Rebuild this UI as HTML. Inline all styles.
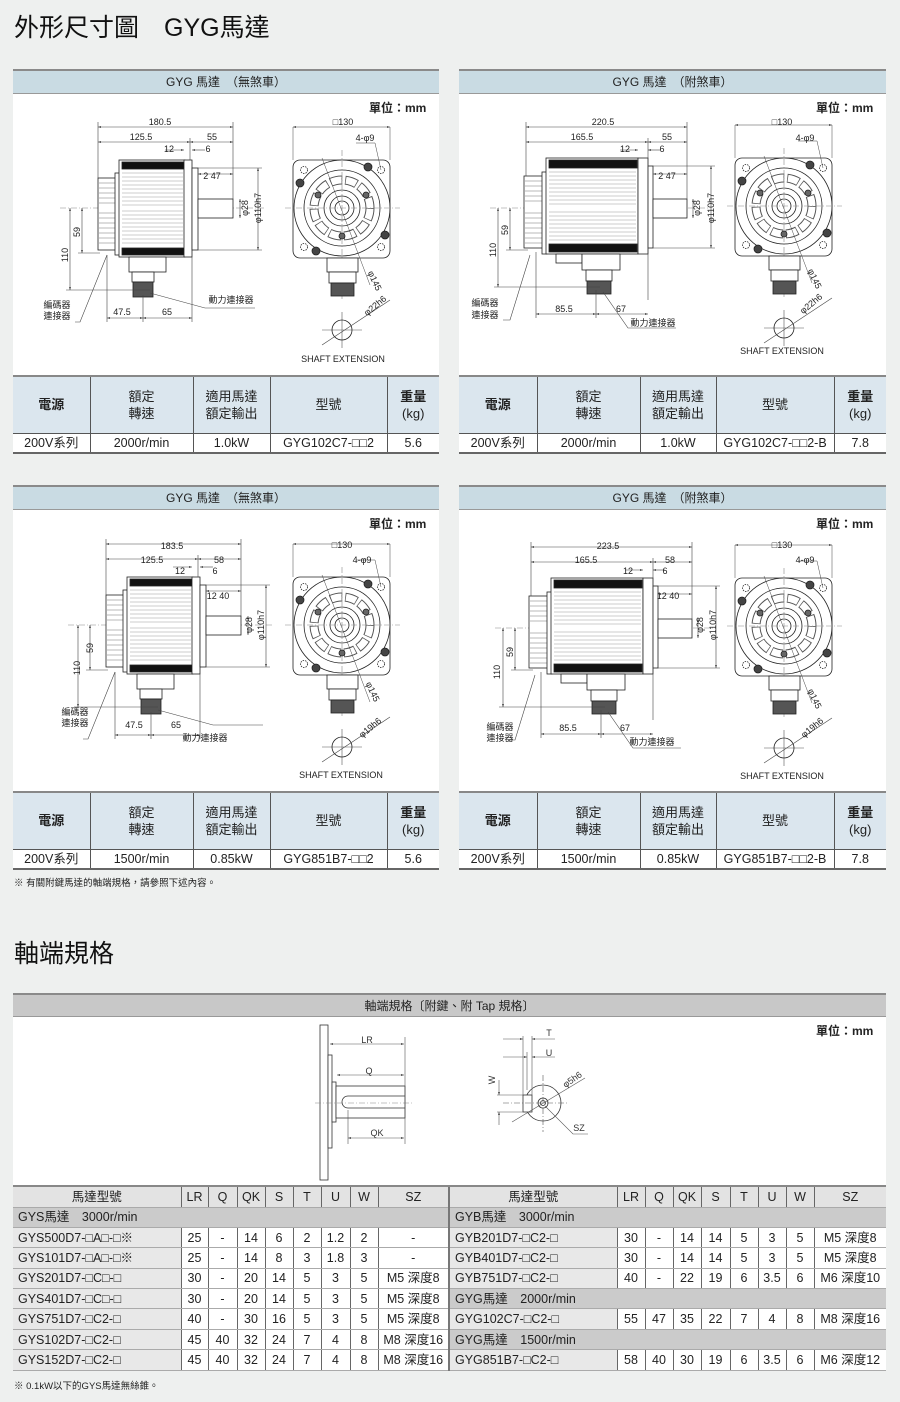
<!DOCTYPE html>
<html><head><meta charset="utf-8">
<style>
*{margin:0;padding:0;box-sizing:border-box}
body{width:900px;height:1402px;background:#eef0ef;position:relative;overflow:hidden;font-family:"Liberation Sans","Noto Sans CJK TC",sans-serif;color:#222}
.abs{position:absolute}
.h1{font-size:25px;left:14px;color:#111}
.panel{position:absolute;background:#fff}
.ph{position:absolute;left:0;right:0;top:0;height:25px;background:#c9dbe3;border-top:2px solid #8a8a8a;border-bottom:1px solid #999;font-size:12px;text-align:center;line-height:22px}
table{border-collapse:collapse;position:absolute;table-layout:fixed}
.spec td{border-left:1px solid #555;text-align:center;font-size:12.5px;padding:0}
.spec td:first-child{border-left:none}
.spec tr.hd td{background:#dbe6ee;height:57px;line-height:17px;font-size:13px;border-top:2px solid #888}
.spec tr.dt td{background:#fff;height:20px;line-height:16px;border-top:1px solid #555;border-bottom:2px solid #666}
.unit{font-size:12px;font-weight:bold;position:absolute}
.shaft td{font-size:12.5px;text-align:center;height:20.4px;line-height:16px;border-left:1px solid #666;border-bottom:1px solid #aaa;background:#fff;padding:0}
.shaft td.m{text-align:left;padding-left:5px;background:#e8e8e8}
.shaft tr.sec td{background:#cbcbcb;text-align:left;padding-left:5px}
.shaft tr.hd td{background:#e3e3e3;height:21px;border-top:2px solid #888}
.shaft td.s2{border-left:2px solid #777}
</style></head><body>

<div class="abs h1" style="top:8px">外形尺寸圖　GYG馬達</div>

<div class="panel" style="left:13px;top:69px;width:426px;height:383px"><div class="ph">GYG 馬達　（無煞車）</div></div>
<div class="panel" style="left:459px;top:69px;width:427px;height:383px"><div class="ph">GYG 馬達　（附煞車）</div></div>
<div class="panel" style="left:13px;top:485px;width:426px;height:383px"><div class="ph">GYG 馬達　（無煞車）</div></div>
<div class="panel" style="left:459px;top:485px;width:427px;height:383px"><div class="ph">GYG 馬達　（附煞車）</div></div>

<div class="unit" style="left:369px;top:99px">單位：mm</div>
<div class="unit" style="left:816px;top:99px">單位：mm</div>
<div class="unit" style="left:369px;top:515px">單位：mm</div>
<div class="unit" style="left:816px;top:515px">單位：mm</div>

<table class="spec" style="left:13px;top:375px;width:426px">
<colgroup><col style="width:77px"><col style="width:103px"><col style="width:77px"><col style="width:117px"><col style="width:52px"></colgroup>
<tr class="hd"><td><b>電源</b></td><td>額定<br>轉速</td><td>適用馬達<br>額定輸出</td><td>型號</td><td><b>重量</b><br>(kg)</td></tr>
<tr class="dt"><td>200V系列</td><td>2000r/min</td><td>1.0kW</td><td>GYG102C7-□□2</td><td>5.6</td></tr></table>
<table class="spec" style="left:459px;top:375px;width:427px">
<colgroup><col style="width:78px"><col style="width:103px"><col style="width:76px"><col style="width:118px"><col style="width:52px"></colgroup>
<tr class="hd"><td><b>電源</b></td><td>額定<br>轉速</td><td>適用馬達<br>額定輸出</td><td>型號</td><td><b>重量</b><br>(kg)</td></tr>
<tr class="dt"><td>200V系列</td><td>2000r/min</td><td>1.0kW</td><td>GYG102C7-□□2-B</td><td>7.8</td></tr></table>
<table class="spec" style="left:13px;top:791px;width:426px">
<colgroup><col style="width:77px"><col style="width:103px"><col style="width:77px"><col style="width:117px"><col style="width:52px"></colgroup>
<tr class="hd"><td><b>電源</b></td><td>額定<br>轉速</td><td>適用馬達<br>額定輸出</td><td>型號</td><td><b>重量</b><br>(kg)</td></tr>
<tr class="dt"><td>200V系列</td><td>1500r/min</td><td>0.85kW</td><td>GYG851B7-□□2</td><td>5.6</td></tr></table>
<table class="spec" style="left:459px;top:791px;width:427px">
<colgroup><col style="width:78px"><col style="width:103px"><col style="width:76px"><col style="width:118px"><col style="width:52px"></colgroup>
<tr class="hd"><td><b>電源</b></td><td>額定<br>轉速</td><td>適用馬達<br>額定輸出</td><td>型號</td><td><b>重量</b><br>(kg)</td></tr>
<tr class="dt"><td>200V系列</td><td>1500r/min</td><td>0.85kW</td><td>GYG851B7-□□2-B</td><td>7.8</td></tr></table>

<div class="abs" style="left:14px;top:875px;font-size:9.5px">※ 有關附鍵馬達的軸端規格，請參照下述內容。</div>

<div class="abs h1" style="top:934px">軸端規格</div>

<div class="panel" style="left:13px;top:993px;width:873px;height:192px"><div class="ph" style="background:#c8c8c8;height:24px;font-size:12px">軸端規格〔附鍵、附 Tap 規格〕</div></div>
<div class="unit" style="left:816px;top:1022px">單位：mm</div>

<table class="shaft" style="left:13px;top:1185px;width:873px">
<colgroup><col style="width:168px"><col style="width:27px"><col style="width:29px"><col style="width:28px"><col style="width:28px"><col style="width:28px"><col style="width:29px"><col style="width:28px"><col style="width:71px"><col style="width:168px"><col style="width:28px"><col style="width:28px"><col style="width:28px"><col style="width:29px"><col style="width:28px"><col style="width:28px"><col style="width:28px"><col style="width:72px"></colgroup>
<tr class="hd"><td style="border-left:none">馬達型號</td><td>LR</td><td>Q</td><td>QK</td><td>S</td><td>T</td><td>U</td><td>W</td><td>SZ</td><td class="s2">馬達型號</td><td>LR</td><td>Q</td><td>QK</td><td>S</td><td>T</td><td>U</td><td>W</td><td>SZ</td></tr>
<tr class="sec"><td colspan="9" style="border-left:none">GYS馬達　3000r/min</td><td colspan="9" class="s2">GYB馬達　3000r/min</td></tr>
<tr><td class="m" style="border-left:none">GYS500D7-□A□-□※</td><td>25</td><td>-</td><td>14</td><td>6</td><td>2</td><td>1.2</td><td>2</td><td>-</td><td class="m s2">GYB201D7-□C2-□</td><td>30</td><td>-</td><td>14</td><td>14</td><td>5</td><td>3</td><td>5</td><td>M5 深度8</td></tr>
<tr><td class="m" style="border-left:none">GYS101D7-□A□-□※</td><td>25</td><td>-</td><td>14</td><td>8</td><td>3</td><td>1.8</td><td>3</td><td>-</td><td class="m s2">GYB401D7-□C2-□</td><td>30</td><td>-</td><td>14</td><td>14</td><td>5</td><td>3</td><td>5</td><td>M5 深度8</td></tr>
<tr><td class="m" style="border-left:none">GYS201D7-□C□-□</td><td>30</td><td>-</td><td>20</td><td>14</td><td>5</td><td>3</td><td>5</td><td>M5 深度8</td><td class="m s2">GYB751D7-□C2-□</td><td>40</td><td>-</td><td>22</td><td>19</td><td>6</td><td>3.5</td><td>6</td><td>M6 深度10</td></tr>
<tr><td class="m" style="border-left:none">GYS401D7-□C□-□</td><td>30</td><td>-</td><td>20</td><td>14</td><td>5</td><td>3</td><td>5</td><td>M5 深度8</td><td colspan="9" class="s2" style="background:#cbcbcb;text-align:left;padding-left:5px">GYG馬達　2000r/min</td></tr>
<tr><td class="m" style="border-left:none">GYS751D7-□C2-□</td><td>40</td><td>-</td><td>30</td><td>16</td><td>5</td><td>3</td><td>5</td><td>M5 深度8</td><td class="m s2">GYG102C7-□C2-□</td><td>55</td><td>47</td><td>35</td><td>22</td><td>7</td><td>4</td><td>8</td><td>M8 深度16</td></tr>
<tr><td class="m" style="border-left:none">GYS102D7-□C2-□</td><td>45</td><td>40</td><td>32</td><td>24</td><td>7</td><td>4</td><td>8</td><td>M8 深度16</td><td colspan="9" class="s2" style="background:#cbcbcb;text-align:left;padding-left:5px">GYG馬達　1500r/min</td></tr>
<tr><td class="m" style="border-left:none">GYS152D7-□C2-□</td><td>45</td><td>40</td><td>32</td><td>24</td><td>7</td><td>4</td><td>8</td><td>M8 深度16</td><td class="m s2">GYG851B7-□C2-□</td><td>58</td><td>40</td><td>30</td><td>19</td><td>6</td><td>3.5</td><td>6</td><td>M6 深度12</td></tr>
</table>
<div class="abs" style="left:14px;top:1378px;font-size:9.5px">※ 0.1kW以下的GYS馬達無絲錐。</div>

<svg class="abs" style="left:0;top:0" width="900" height="1402" viewBox="0 0 900 1402" font-family="Liberation Sans, Noto Sans CJK TC, sans-serif" font-size="9" fill="#222">
<defs>
<marker id="ar" viewBox="0 0 6 6" refX="6" refY="3" markerWidth="5" markerHeight="5" orient="auto-start-reverse"><path d="M0,1 L6,3 L0,5z" fill="#444"/></marker>
<g id="sideA" stroke="#222" stroke-width="0.8" fill="#fff">
 <line x1="60" y1="208" x2="265" y2="208" stroke="#888" stroke-dasharray="6,2,1,2" stroke-width="0.6"/>
 <rect x="98" y="178" width="21" height="72"/>
 <path d="M99 183H118M99 188H118M99 193H118M99 198H118M99 203H118M99 213H118M99 218H118M99 223H118M99 228H118M99 233H118M99 238H118M99 243H118" stroke="#777" stroke-width="0.6"/>
 <rect x="115" y="173" width="5" height="82"/>
 <rect x="119" y="160" width="66" height="97"/>
 <path d="M122 173H183M122 177H183M122 181H183M122 185H183M122 189H183M122 193H183M122 197H183M122 201H183M122 205H183M122 211H183M122 215H183M122 219H183M122 223H183M122 227H183M122 231H183M122 235H183M122 239H183M122 243H183" stroke="#999" stroke-width="0.6"/>
 <rect x="122" y="162" width="62" height="7" fill="#111"/>
 <rect x="122" y="248" width="62" height="7" fill="#111"/>
 <rect x="184" y="160" width="8" height="97"/>
 <rect x="192" y="168" width="6" height="82"/>
 <rect x="198" y="199" width="35" height="19"/>
 <rect x="129" y="257" width="37" height="15"/>
 <rect x="132" y="272" width="22" height="10"/>
 <rect x="133" y="282" width="20" height="15" fill="#555"/>
</g>
<g id="sideB" stroke="#222" stroke-width="0.8" fill="#fff">
 <line x1="490" y1="208" x2="710" y2="208" stroke="#888" stroke-dasharray="6,2,1,2" stroke-width="0.6"/>
 <rect x="524" y="176" width="22" height="72"/>
 <path d="M525 181H545M525 186H545M525 191H545M525 196H545M525 201H545M525 213H545M525 218H545M525 223H545M525 228H545M525 233H545M525 238H545M525 243H545" stroke="#777" stroke-width="0.6"/>
 <rect x="542" y="172" width="5" height="82"/>
 <rect x="546" y="158" width="92" height="96"/>
 <path d="M549 172H636M549 176H636M549 180H636M549 184H636M549 188H636M549 192H636M549 196H636M549 200H636M549 204H636M549 212H636M549 216H636M549 220H636M549 224H636M549 228H636M549 232H636M549 236H636M549 240H636" stroke="#999" stroke-width="0.6"/>
 <rect x="549" y="160" width="88" height="8" fill="#111"/>
 <rect x="549" y="244" width="88" height="8" fill="#111"/>
 <rect x="638" y="158" width="10" height="96"/>
 <rect x="648" y="166" width="5" height="82"/>
 <rect x="653" y="199" width="34" height="19"/>
 <rect x="556" y="254" width="26" height="9"/>
 <rect x="582" y="254" width="38" height="16"/>
 <rect x="586" y="270" width="26" height="11"/>
 <rect x="587" y="281" width="24" height="13" fill="#555"/>
</g>
<g id="front" stroke="#222" stroke-width="0.8" fill="#fff">
 <rect x="293" y="160" width="97" height="98" rx="7"/>
 <circle cx="342" cy="208" r="48"/>
 <circle cx="342" cy="208" r="38"/>
 <circle cx="342" cy="208" r="28" fill="none" stroke="#555" stroke-width="9" stroke-dasharray="12,3"/>
 <circle cx="342" cy="208" r="28" fill="none" stroke="#fff" stroke-width="7" stroke-dasharray="10.5,4.5" stroke-dashoffset="-0.75"/>
 <circle cx="342" cy="208" r="18"/>
 <circle cx="342" cy="208" r="12"/>
 <circle cx="342" cy="208" r="7"/>
 <line x1="285" y1="208" x2="400" y2="208" stroke="#888" stroke-dasharray="6,2,1,2" stroke-width="0.6"/>
 <line x1="342" y1="150" x2="342" y2="300" stroke="#888" stroke-dasharray="6,2,1,2" stroke-width="0.6"/>
 <circle cx="300" cy="183" r="4" fill="#444"/><circle cx="368" cy="167" r="4" fill="#444"/>
 <circle cx="385" cy="235" r="4" fill="#444"/><circle cx="316" cy="251" r="4" fill="#444"/>
 <circle cx="318" cy="195" r="3" fill="#666"/><circle cx="366" cy="195" r="3" fill="#666"/><circle cx="342" cy="236" r="3" fill="#666"/>
 <circle cx="304" cy="170" r="3.5" stroke-dasharray="1.5,1"/><circle cx="381" cy="170" r="3.5" stroke-dasharray="1.5,1"/>
 <circle cx="304" cy="247" r="3.5" stroke-dasharray="1.5,1"/><circle cx="381" cy="247" r="3.5" stroke-dasharray="1.5,1"/>
 <rect x="327" y="258" width="31" height="14"/>
 <rect x="329" y="272" width="27" height="11"/>
 <rect x="331" y="283" width="23" height="13" fill="#555"/>
 <line x1="322" y1="330" x2="362" y2="330" stroke="#555" stroke-width="0.6"/>
 <line x1="342" y1="312" x2="342" y2="348" stroke="#555" stroke-width="0.6"/>
 <circle cx="342" cy="330" r="10" fill="none"/>
 <line x1="322" y1="345" x2="390" y2="300" stroke="#444" stroke-width="0.6"/>
 <line x1="293" y1="127" x2="390" y2="127" stroke="#444" stroke-width="0.6" marker-start="url(#ar)" marker-end="url(#ar)"/>
 <line x1="293" y1="127" x2="293" y2="160" stroke="#444" stroke-width="0.5"/>
 <line x1="390" y1="127" x2="390" y2="160" stroke="#444" stroke-width="0.5"/>
 <polyline points="356,143 375,143 381,170" fill="none" stroke="#444" stroke-width="0.5"/>
 <line x1="322" y1="158" x2="370" y2="285" stroke="#444" stroke-width="0.5"/>
</g>
<g id="dimA" stroke="#444" stroke-width="0.6" fill="none">
 <line x1="98" y1="127" x2="233" y2="127" marker-start="url(#ar)" marker-end="url(#ar)"/>
 <line x1="98" y1="142" x2="190" y2="142" marker-start="url(#ar)" marker-end="url(#ar)"/>
 <line x1="190" y1="142" x2="233" y2="142" marker-start="url(#ar)" marker-end="url(#ar)"/>
 <line x1="98" y1="122" x2="98" y2="178"/><line x1="233" y1="122" x2="233" y2="199"/><line x1="190" y1="138" x2="190" y2="160"/>
 <line x1="165" y1="150" x2="184" y2="150" marker-end="url(#ar)"/><line x1="192" y1="150" x2="205" y2="150" marker-start="url(#ar)"/>
 <line x1="198" y1="174" x2="233" y2="174" marker-start="url(#ar)" marker-end="url(#ar)"/>
 <line x1="240" y1="199" x2="240" y2="218" marker-start="url(#ar)" marker-end="url(#ar)"/>
 <line x1="258" y1="168" x2="258" y2="250" marker-start="url(#ar)" marker-end="url(#ar)"/>
 <line x1="198" y1="168" x2="262" y2="168"/><line x1="198" y1="250" x2="262" y2="250"/>
 <line x1="70" y1="208" x2="70" y2="290" marker-start="url(#ar)" marker-end="url(#ar)"/>
 <line x1="82" y1="208" x2="82" y2="253" marker-start="url(#ar)" marker-end="url(#ar)"/>
 <line x1="66" y1="290" x2="150" y2="290"/><line x1="78" y1="253" x2="100" y2="253"/>
 <line x1="107" y1="318" x2="143" y2="318" marker-start="url(#ar)" marker-end="url(#ar)"/>
 <line x1="143" y1="318" x2="192" y2="318" marker-start="url(#ar)" marker-end="url(#ar)"/>
 <line x1="107" y1="255" x2="107" y2="322"/><line x1="143" y1="295" x2="143" y2="322"/><line x1="192" y1="257" x2="192" y2="322"/>
 <polyline points="75,322 80,322 107,255"/>
 <polyline points="150,293 205,308 255,308"/>
</g>
<g id="dimB" stroke="#444" stroke-width="0.6" fill="none">
 <line x1="526" y1="127" x2="687" y2="127" marker-start="url(#ar)" marker-end="url(#ar)"/>
 <line x1="526" y1="142" x2="648" y2="142" marker-start="url(#ar)" marker-end="url(#ar)"/>
 <line x1="648" y1="142" x2="687" y2="142" marker-start="url(#ar)" marker-end="url(#ar)"/>
 <line x1="526" y1="122" x2="526" y2="176"/><line x1="687" y1="122" x2="687" y2="199"/><line x1="648" y1="138" x2="648" y2="300"/>
 <line x1="620" y1="150" x2="638" y2="150" marker-end="url(#ar)"/><line x1="648" y1="150" x2="660" y2="150" marker-start="url(#ar)"/>
 <line x1="653" y1="174" x2="687" y2="174" marker-start="url(#ar)" marker-end="url(#ar)"/>
 <line x1="693" y1="199" x2="693" y2="218" marker-start="url(#ar)" marker-end="url(#ar)"/>
 <line x1="711" y1="166" x2="711" y2="248" marker-start="url(#ar)" marker-end="url(#ar)"/>
 <line x1="653" y1="166" x2="715" y2="166"/><line x1="653" y1="248" x2="715" y2="248"/>
 <line x1="498" y1="208" x2="498" y2="287" marker-start="url(#ar)" marker-end="url(#ar)"/>
 <line x1="510" y1="208" x2="510" y2="250" marker-start="url(#ar)" marker-end="url(#ar)"/>
 <line x1="494" y1="287" x2="600" y2="287"/><line x1="506" y1="250" x2="528" y2="250"/>
 <line x1="536" y1="314" x2="596" y2="314" marker-start="url(#ar)" marker-end="url(#ar)"/>
 <line x1="596" y1="314" x2="648" y2="314" marker-start="url(#ar)" marker-end="url(#ar)"/>
 <line x1="536" y1="252" x2="536" y2="318"/><line x1="596" y1="290" x2="596" y2="318"/>
 <polyline points="503,320 510,320 530,255"/>
 <polyline points="603,292 628,328 676,328"/>
</g>
</defs>

<use href="#sideA"/><use href="#dimA"/><use href="#front"/>
<use href="#sideB"/><use href="#dimB"/><use href="#front" transform="translate(442,-2)"/>
<use href="#sideA" transform="translate(8,417)"/><use href="#dimA" transform="translate(8,417)"/><use href="#front" transform="translate(0,417)"/>
<use href="#sideB" transform="translate(5,420)"/><use href="#dimB" transform="translate(5,420)"/><use href="#front" transform="translate(442,418)"/>

<g text-anchor="middle">
<text x="160" y="125">180.5</text><text x="141" y="140">125.5</text><text x="212" y="140">55</text>
<text x="169" y="152">12</text><text x="208" y="152">6</text><text x="212" y="179">2  47</text>
<text transform="translate(248,208) rotate(-90)">φ28</text><text transform="translate(261,208) rotate(-90)">φ110h7</text>
<text transform="translate(68,255) rotate(-90)">110</text><text transform="translate(80,232) rotate(-90)">59</text>
<text x="122" y="315">47.5</text><text x="167" y="315">65</text>
<text x="57" y="308">編碼器</text><text x="57" y="319">連接器</text><text x="231" y="303">動力連接器</text>
<text x="343" y="125">□130</text><text x="365" y="141">4-φ9</text>
<text transform="translate(372,282) rotate(65)">φ145</text><text transform="translate(377,308) rotate(-40)">φ22h6</text>
<text x="343" y="362">SHAFT EXTENSION</text>
<text x="603" y="125">220.5</text><text x="582" y="140">165.5</text><text x="667" y="140">55</text>
<text x="625" y="152">12</text><text x="662" y="152">6</text><text x="667" y="179">2  47</text>
<text transform="translate(700,208) rotate(-90)">φ28</text><text transform="translate(714,208) rotate(-90)">φ110h7</text>
<text transform="translate(496,250) rotate(-90)">110</text><text transform="translate(508,230) rotate(-90)">59</text>
<text x="564" y="312">85.5</text><text x="621" y="312">67</text>
<text x="485" y="306">編碼器</text><text x="485" y="318">連接器</text><text x="653" y="326">動力連接器</text>
<text x="782" y="125">□130</text><text x="805" y="141">4-φ9</text>
<text transform="translate(812,280) rotate(65)">φ145</text><text transform="translate(813,306) rotate(-40)">φ22h6</text>
<text x="782" y="354">SHAFT EXTENSION</text>
<text x="172" y="549">183.5</text><text x="152" y="563">125.5</text><text x="219" y="563">58</text>
<text x="180" y="574">12</text><text x="215" y="574">6</text><text x="218" y="599">12  40</text>
<text transform="translate(252,625) rotate(-90)">φ28</text><text transform="translate(264,625) rotate(-90)">φ110h7</text>
<text transform="translate(80,668) rotate(-90)">110</text><text transform="translate(93,648) rotate(-90)">59</text>
<text x="134" y="728">47.5</text><text x="176" y="728">65</text>
<text x="75" y="715">編碼器</text><text x="75" y="726">連接器</text><text x="205" y="741">動力連接器</text>
<text x="342" y="548">□130</text><text x="362" y="563">4-φ9</text>
<text transform="translate(370,693) rotate(65)">φ145</text><text transform="translate(372,730) rotate(-40)">φ19h6</text>
<text x="341" y="778">SHAFT EXTENSION</text>
<text x="608" y="549">223.5</text><text x="586" y="563">165.5</text><text x="670" y="563">58</text>
<text x="628" y="574">12</text><text x="665" y="574">6</text><text x="668" y="599">12  40</text>
<text transform="translate(703,625) rotate(-90)">φ28</text><text transform="translate(716,625) rotate(-90)">φ110h7</text>
<text transform="translate(500,672) rotate(-90)">110</text><text transform="translate(513,652) rotate(-90)">59</text>
<text x="568" y="731">85.5</text><text x="625" y="731">67</text>
<text x="500" y="730">編碼器</text><text x="500" y="741">連接器</text><text x="652" y="745">動力連接器</text>
<text x="782" y="548">□130</text><text x="805" y="563">4-φ9</text>
<text transform="translate(812,700) rotate(65)">φ145</text><text transform="translate(814,730) rotate(-40)">φ19h6</text>
<text x="782" y="779">SHAFT EXTENSION</text>
</g>

<g stroke="#333" stroke-width="0.8" fill="#fff">
 <rect x="320" y="1025" width="8" height="155"/>
 <rect x="328" y="1055" width="4" height="93"/>
 <rect x="332" y="1082" width="4" height="40"/>
 <rect x="336" y="1086" width="69" height="32"/>
 <path d="M405 1096H348a6 6 0 0 0 0 12H405" fill="none"/>
 <line x1="315" y1="1103" x2="412" y2="1103" stroke="#888" stroke-dasharray="6,2,1,2" stroke-width="0.6"/>
 <g stroke="#555" stroke-width="0.6">
 <line x1="330" y1="1044" x2="404" y2="1044" marker-start="url(#ar)" marker-end="url(#ar)"/>
 <line x1="337" y1="1075" x2="404" y2="1075" marker-start="url(#ar)" marker-end="url(#ar)"/>
 <line x1="348" y1="1138" x2="404" y2="1138" marker-start="url(#ar)" marker-end="url(#ar)"/>
 <line x1="405" y1="1037" x2="405" y2="1144"/><line x1="348" y1="1110" x2="348" y2="1144"/>
 </g>
 <circle cx="543" cy="1103" r="18"/>
 <circle cx="543" cy="1103" r="5"/><circle cx="543" cy="1103" r="2.5"/>
 <rect x="523" y="1095" width="9" height="17"/>
 <g stroke="#555" stroke-width="0.6" fill="none">
 <line x1="503" y1="1103" x2="568" y2="1103" stroke-dasharray="6,2,1,2"/>
 <line x1="543" y1="1075" x2="543" y2="1132" stroke-dasharray="6,2,1,2"/>
 <line x1="523" y1="1036" x2="523" y2="1095"/><line x1="532" y1="1036" x2="532" y2="1095"/><line x1="527" y1="1052" x2="527" y2="1090"/>
 <line x1="503" y1="1039" x2="523" y2="1039" marker-end="url(#ar)"/><line x1="532" y1="1039" x2="555" y2="1039" marker-start="url(#ar)"/>
 <line x1="503" y1="1057" x2="527" y2="1057" marker-end="url(#ar)"/><line x1="532" y1="1057" x2="555" y2="1057" marker-start="url(#ar)"/>
 <line x1="497" y1="1095" x2="523" y2="1095"/><line x1="497" y1="1112" x2="523" y2="1112"/>
 <line x1="499" y1="1080" x2="499" y2="1095" marker-end="url(#ar)"/><line x1="499" y1="1125" x2="499" y2="1112" marker-end="url(#ar)"/>
 <line x1="512" y1="1122" x2="585" y2="1078"/>
 <polyline points="545,1106 573,1134 588,1134"/>
 </g>
</g>
<g font-size="9" text-anchor="middle" fill="#333">
 <text x="367" y="1043">LR</text><text x="369" y="1074">Q</text><text x="377" y="1136">QK</text>
 <text x="549" y="1036">T</text><text x="549" y="1056">U</text>
 <text transform="translate(495,1080) rotate(-90)">W</text>
 <text transform="translate(574,1082) rotate(-35)">φ5h6</text>
 <text x="579" y="1131">SZ</text>
</g>
</svg>
</body></html>
